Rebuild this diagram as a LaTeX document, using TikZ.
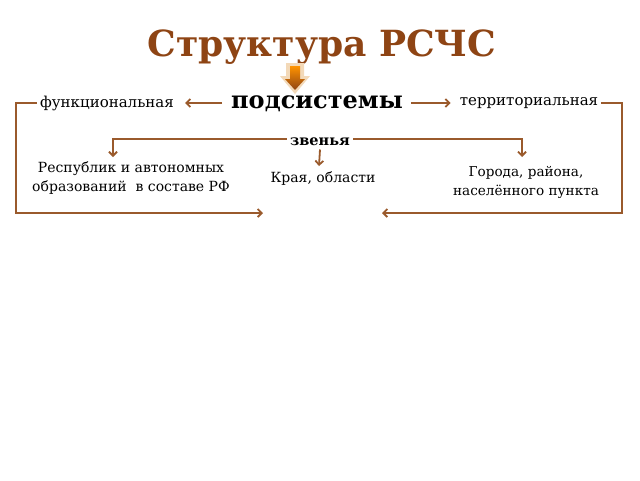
\documentclass[tikz,border=0pt]{standalone}
\usepackage{fontspec}
\setmainfont{DejaVu Serif}
\usetikzlibrary{arrows.meta}
\definecolor{rust}{HTML}{8E4414}
\definecolor{linebrown}{HTML}{9A5A2C}
\definecolor{glow}{HTML}{F3D9B8}

\begin{document}
\begin{tikzpicture}[x=1pt,y=-1pt,
	link/.style={draw=linebrown,line width=1.8pt,-{Straight Barb[length=4pt,width=8pt]}},
	plain/.style={font=\fontsize{14}{19}\selectfont,inner sep=1pt,align=center}]
	\useasboundingbox[fill=white] (0,0) rectangle (640,480);
	% title
	\node (title)[text=rust,font=\fontsize{36}{40}\selectfont\bfseries] at (322,47) {Структура РСЧС};
	% orange block arrow
	\fill[glow] (286,63)--(304,63)--(304,76)--(310,76)--(295,94)--(280,76)--(286,76)--cycle;
	\shade[top color=orange!85!yellow,bottom color=rust] (290,66)--(300,66)--(300,79)--(305,79)--(295,90)--(285,79)--(290,79)--cycle;
	% top row
	\node (sub)[font=\fontsize{24}{26}\selectfont\bfseries] at (317,104) {подсистемы};
	\node (func)[plain,inner xsep=3pt,font=\fontsize{15}{18}\selectfont] at (107,103) {функциональная};
	\node (terr)[plain,inner xsep=3pt,font=\fontsize{15}{18}\selectfont] at (529,103) {территориальная};
	\draw[link,shorten >=8pt] (222,0|-func.east)--(func.east);
	\draw[link,shorten >=6pt] (411,0|-terr.west)--(terr.west);
	% links of the subsystems
	\node (zv)[font=\fontsize{14.5}{16}\selectfont\bfseries] at (320,142) {звенья};
	\node (rep)[plain] at (131,178) {Республик и автономных\\образований \ в составе РФ};
	\node (kray)[plain] at (323,179) {Края, области};
	\node (gor)[plain,font=\fontsize{13.6}{19}\selectfont] at (526,182) {Города, района,\\населённого пункта};
	\draw[link] (zv.west|-0,139)--(113,139)--(113,157);
	\draw[link] (zv.east|-0,139)--(522,139)--(522,157);
	\draw[link] (zv.south)--(319,166);
	% outer loops
	\coordinate (lend) at (263,213);
	\coordinate (rend) at (382,213);
	\draw[link] (func.west)--(16,0|-func.west)--(16,213)--(lend);
	\draw[link] (terr.east)--(622,0|-terr.east)--(622,213)--(rend);
\end{tikzpicture}
\end{document}
